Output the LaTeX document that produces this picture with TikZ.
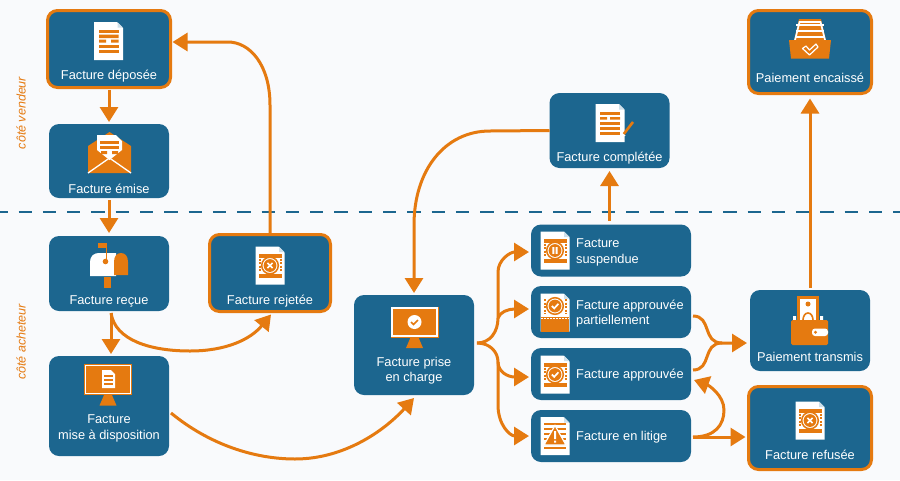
\documentclass[tikz,border=0pt]{standalone}
\usepackage{fontspec}
\setmainfont{Liberation Sans}
\usetikzlibrary{arrows.meta}
\definecolor{bluebox}{HTML}{1C668F}
\definecolor{orangeflow}{HTML}{E57A10}
\definecolor{paperbg}{HTML}{F9FAFC}
\definecolor{foldblue}{HTML}{CFE0EA}
\tikzset{
  box/.style={rectangle, fill=bluebox, rounded corners=10pt, outer sep=0pt, inner sep=0pt,
    minimum width=120pt},
  endbox/.style={box, draw=orangeflow, line width=3pt, minimum width=123pt},
  wide/.style={box, minimum width=160pt, minimum height=52pt},
  boxtext/.style={text=white, font=\fontsize{12.8}{15.5}\selectfont, align=center, inner sep=0pt, yshift=-1.5pt},
  sidetext/.style={boxtext, align=left, anchor=west},
  sidelabel/.style={text=orangeflow, font=\fontsize{12.5}{14}\selectfont\itshape, rotate=90, inner sep=0pt},
  flow/.style={draw=orangeflow, line width=3pt, -{Triangle[width=18pt,length=15pt]}},
  pics/page/.style={code={
    \fill[white] (-14.5,-19) -- (8.5,-19) -- (14.5,-13) -- (14.5,19) -- (-14.5,19) -- cycle;
    \fill[foldblue] (9,-19) -- (14.5,-13.5) -- (9,-13.5) -- cycle;
  }},
  pics/stamp/.style={code={
    \pic {page};
    \fill[orangeflow] (-11.5,-12) rectangle (11.5,-8);
    \fill[orangeflow] (-11.5,8) rectangle (11.5,12);
    \draw[orangeflow, line width=2pt, dash pattern=on 2pt off 1.6pt] (-10.5,-7) -- (-10.5,7);
    \draw[orangeflow, line width=2pt, dash pattern=on 2pt off 1.6pt] (10.5,-7) -- (10.5,7);
    \draw[orangeflow, line width=1.5pt] (0,0) circle (8.3);
    \fill[orangeflow] (0,0) circle (6.4);
  }},
  pics/markx/.style={code={
    \draw[white, line width=1.7pt] (-2.6,-2.6) -- (2.6,2.6) (-2.6,2.6) -- (2.6,-2.6);
  }},
  pics/markcheck/.style={code={
    \draw[white, line width=1.7pt] (-3.2,0) -- (-0.8,2.4) -- (3.4,-2.2);
  }},
  pics/markpause/.style={code={
    \fill[white] (-2.6,-3.4) rectangle (-0.7,3.4) (0.7,-3.4) rectangle (2.6,3.4);
  }},
  pics/screen/.style={code={
    \fill[orangeflow] (-24,-15.5) rectangle (24,15.5);
    \draw[white, line width=1.4pt] (-22.5,-14) rectangle (22.5,14);
    \fill[orangeflow] (-4,15.5) -- (4,15.5) -- (8.5,26) -- (-8.5,26) -- cycle;
  }},
}
\begin{document}
\begin{tikzpicture}[x=1pt, y=-1pt]
   \fill[paperbg] (0,0) rectangle (900,480);
   \useasboundingbox (0,0) rectangle (900,480);
   \draw[bluebox, line width=2pt, dash pattern=on 13.3pt off 11pt] (-5.8,212) -- (900,212);

   \node[sidelabel] (vendeur) at (21,113) {côté vendeur};
   \node[sidelabel] (acheteur) at (21,342) {côté acheteur};

   % boxes
   \node[endbox, minimum height=77pt] (deposee) at (109,49) {};
   \node[box, minimum height=74pt] (emise) at (109,161) {};
   \node[box, minimum height=75pt] (recue) at (109,273.5) {};
   \node[box, minimum height=100pt] (mise) at (109,406) {};
   \node[endbox, minimum width=121pt, minimum height=77pt] (rejetee) at (270,273) {};
   \node[box, minimum height=100pt] (prise) at (414,345) {};
   \node[wide] (suspendue) at (611,250.5) {};
   \node[wide] (partiel) at (611,312) {};
   \node[wide] (approuvee) at (611,374) {};
   \node[wide] (litige) at (611,436) {};
   \node[box, minimum height=81pt] (transmis) at (810,330.5) {};
   \node[endbox, minimum height=83pt] (refusee) at (810,428) {};
   \node[box, minimum height=75pt] (completee) at (609.5,130.5) {};
   \node[endbox, minimum height=83pt] (encaisse) at (810,52) {};

   % texts
   \node[boxtext] (deposeetext) at (109,75) {Facture déposée};
   \node[boxtext] (emisetext) at (109,187) {Facture émise};
   \node[boxtext] (recuetext) at (109,299.5) {Facture reçue};
   \node[boxtext] (misetext) at (109,427) {Facture\\mise à disposition};
   \node[boxtext] (rejeteetext) at (270,299.5) {Facture rejetée};
   \node[boxtext] (prisetext) at (414,369) {Facture prise\\en charge};
   \node[sidetext] (suspenduetext) at (576,251) {Facture\\suspendue};
   \node[sidetext] (partieltext) at (576,312) {Facture approuvée\\partiellement};
   \node[sidetext] (approuveetext) at (576,374) {Facture approuvée};
   \node[sidetext] (litigetext) at (576,436) {Facture en litige};
   \node[boxtext] (transmistext) at (810,355) {Paiement transmis};
   \node[boxtext] (refuseetext) at (810,453) {Facture refusée};
   \node[boxtext] (completeetext) at (609.5,157) {Facture complétée};
   \node[boxtext] (encaissetext) at (810,76) {Paiement encaissé};

   % icons
   \pic at (108.5,41) {page};
   \foreach \y in {31.5,46.5,51.5} \fill[orangeflow] (99,\y-1.5) rectangle (118.5,\y+1.5);
   \fill[orangeflow] (99,34.5) rectangle (118.5,38) (99,39.5) rectangle (106,42.5) (111,39.5) rectangle (118.5,42.5);

   \fill[orangeflow] (88,146) -- (109.5,132) -- (131,146) -- (131,173) -- (88,173) -- cycle;
   \fill[white] (97,135) -- (116,135) -- (122,141) -- (122,150) -- (109.5,160) -- (97,150) -- cycle;
   \foreach \y in {141,146} \fill[orangeflow] (100,\y) rectangle (119,\y+3);
   \fill[orangeflow] (101,151) rectangle (107,154) (112,151) rectangle (118,154);
   \draw[white, line width=1.3pt] (88,173) -- (109.5,158) -- (131,173);

   \fill[orangeflow] (104,277) rectangle (111,288);
   \fill[white] (90,276) -- (90,262) .. controls (90,256) and (94,253) .. (99,253) -- (116,253) -- (116,276) -- cycle;
   \fill[orangeflow] (114,275) -- (114,262) .. controls (114,256) and (117,253) .. (121,253) .. controls (125,253) and (128,256) .. (128,262) -- (128,275) -- cycle;
   \fill[orangeflow] (98,243) rectangle (107,248);
   \draw[orangeflow, line width=1pt] (106,246) -- (106,262);
   \fill[orangeflow] (105.5,261.5) circle (2.8);

   \pic at (108,379.5) {screen};
   \fill[white] (102,370) -- (111,370) -- (115,374) -- (115,388) -- (102,388) -- cycle;
   \foreach \y in {375,379,383} \fill[orangeflow] (104,\y) rectangle (113,\y+1.5);

   \pic at (414.5,322) {screen};
   \fill[white] (414.5,322) circle (7);
   \draw[orangeflow, line width=1.5pt] (411,322) -- (413.5,324.5) -- (418,320);

   \pic at (270,265.5) {stamp};
   \pic at (270,265.5) {markx};
   \pic at (810,420.5) {stamp};
   \pic at (810,420.5) {markx};
   \pic at (555,250.5) {stamp};
   \pic at (555,250.5) {markpause};
   \pic at (555,374.5) {stamp};
   \pic at (555,374.5) {markcheck};

   \pic at (555,312.5) {page};
   \draw[orangeflow, line width=2pt, dash pattern=on 2pt off 1.6pt] (544.5,299) -- (544.5,314) (565.5,299) -- (565.5,314);
   \draw[orangeflow, line width=1.5pt] (555,306) circle (8.3);
   \fill[orangeflow] (555,306) circle (6.4);
   \pic at (555,306) {markcheck};
   \fill[orangeflow] (541,317) rectangle (569,331.5);
   \draw[white, line width=1pt, dash pattern=on 1.5pt off 1.5pt] (541,318) -- (569,318);

   \pic at (555,436) {page};
   \foreach \y in {423,428,433,438,447} \fill[orangeflow] (544,\y) rectangle (566,\y+2.4);
   \draw[white, line width=1.2pt, fill=orangeflow] (555,425.5) -- (566,445) -- (544,445) -- cycle;
   \fill[white] (554,431) rectangle (556,439) (554,440.5) rectangle (556,442.5);

   \pic at (610,123) {page};
   \foreach \y in {112,122,127,132} \fill[orangeflow] (600,\y) rectangle (620,\y+2.6);
   \fill[orangeflow] (600,117) rectangle (607,119.6) (610,117) rectangle (620,119.6);
   \draw[orangeflow, line width=2.6pt] (623,135) -- (633,122);
   \fill[white] (620.5,138) -- (621.5,132.5) -- (625.5,135.5) -- cycle;

   \fill[orangeflow] (797,296) rectangle (819,322);
   \fill[white] (800,299) rectangle (816,322);
   \fill[orangeflow] (808,304) circle (2.5);
   \draw[orangeflow, line width=1.6pt] (803,320) arc (180:360:5 and 7);
   \fill[white] (793,316) rectangle (796,320) (820,316) rectangle (823,320);
   \fill[orangeflow, rounded corners=1.5pt] (791,320) rectangle (828,345);
   \fill[white, rounded corners=3pt] (812,328.5) rectangle (828,336);
   \fill[orangeflow] (815.5,332.2) circle (1.6);

   \fill[orangeflow] (794,41) -- (799,19) -- (821,19) -- (826,41) -- cycle;
   \foreach \y in {25,31,37} \draw[white, line width=1.7pt] (796,\y) -- (824,\y);
   \draw[white, line width=1.7pt] (795,40) -- (799.5,22) -- (820.5,22) -- (825,40);
   \fill[orangeflow] (789,40) -- (831,40) -- (829,58.5) -- (791,58.5) -- cycle;
   \draw[white, line width=1.2pt, line join=round] (802.5,48.5) -- (806,46) -- (809.5,50) -- (816,44) -- (818,47) -- (809.5,55) -- cycle;

   % connectors
   \coordinate (rejbend) at (270,105);
   \coordinate (fork) at ([xshift=3pt,yshift=2pt]prise.east);
   \coordinate (forkup) at (498,318);
   \coordinate (forkdown) at (498,362);
   \draw[flow, shorten <=2pt, shorten >=2pt] (deposee) -- (emise);
   \draw[flow, shorten <=2pt, shorten >=3pt] (emise) -- (recue);
   \draw[flow, shorten <=2pt, shorten >=2pt] ([xshift=2pt]recue.south) -- ([xshift=2pt]mise.north);
   \draw[flow] ([xshift=2pt,yshift=-2pt]recue.south) .. controls (115,340) and (150,351) .. (190,351)
      .. controls (225,351) and (250,340) .. ([xshift=1pt,yshift=-3pt]rejetee.south);
   \draw[flow] (rejetee.north) -- (rejbend) .. controls (270,65) and (250,42) .. (228,42)
      -- ([xshift=2pt,yshift=7pt]deposee.east);
   \draw[flow] ([xshift=2pt,yshift=-7pt]mise.east) .. controls (210,445) and (255,459) .. (295,459)
      .. controls (345,459) and (385,430) .. ([yshift=-3pt]prise.south);
   \draw[flow] (completee.west) -- (490,131) .. controls (445,131) and (414,170) .. (414,225)
      -- ([yshift=2pt]prise.north);
   \draw[flow] ([xshift=-1.5pt,yshift=4pt]suspendue.north) -- ([yshift=-3pt]completee.south);
   \draw[flow] ([yshift=2pt]transmis.north) -- ([yshift=-5pt]encaisse.south);

   \draw[flow] (fork) .. controls (490,343) and (498,332) .. (forkup) -- (498,272)
      .. controls (498,260) and (510,252) .. ([xshift=-2pt,yshift=-1.5pt]suspendue.west);
   \draw[flow] (forkup) .. controls (500,312) and (508,309) .. ([xshift=-2pt,yshift=3pt]partiel.west);
   \draw[flow] (fork) .. controls (490,343) and (498,352) .. (forkdown)
      .. controls (498,372) and (508,377) .. ([xshift=-2pt,yshift=-3pt]approuvee.west);
   \draw[flow] (forkdown) -- (498,405) .. controls (498,425) and (510,436) .. ([xshift=-2pt]litige.west);

   \draw[flow] ([xshift=2pt,yshift=-4pt]partiel.east) .. controls (712,316) and (702,343) .. (722,343)
      -- ([xshift=-3pt,yshift=-12.5pt]transmis.west);
   \draw[draw=orangeflow, line width=3pt] ([xshift=2pt,yshift=4pt]approuvee.east) .. controls (712,370) and (702,343) .. (722,343);
   \draw[flow] ([xshift=2pt,yshift=-1pt]litige.east) -- ([xshift=-3pt,yshift=-9pt]refusee.west);
   \draw[flow] ([xshift=2pt,yshift=-1pt]litige.east) .. controls (715,437) and (724,425) .. (724,410)
      .. controls (724,395) and (708,385) .. ([xshift=3pt,yshift=-6pt]approuvee.east);
\end{tikzpicture}
\end{document}
